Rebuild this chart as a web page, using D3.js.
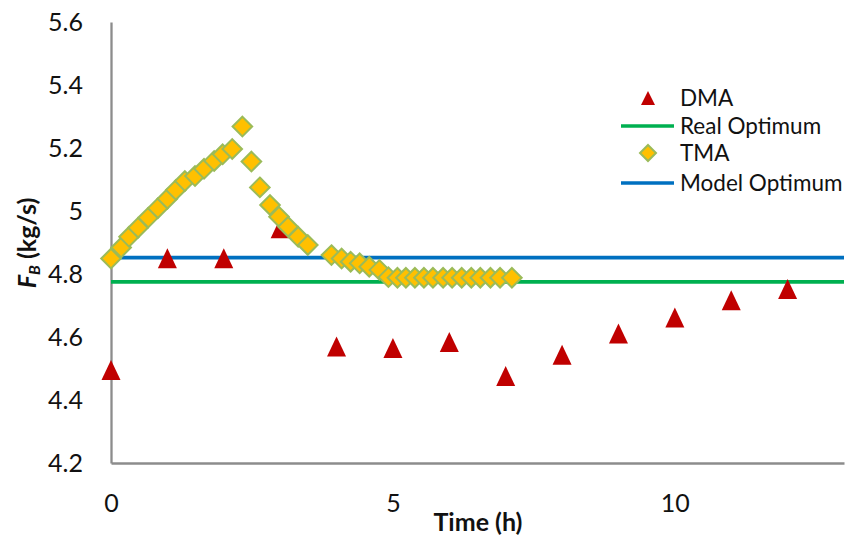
<!DOCTYPE html>
<html>
<head>
<meta charset="utf-8">
<script src="https://cdn.jsdelivr.net/npm/d3@7"></script>
<style>
  html, body { margin: 0; padding: 0; background: #fff; }
  svg { display: block; font-family: Lato, "Open Sans", sans-serif; }
</style>
</head>
<body>
<svg id="chart" width="860" height="542"></svg>
<script>
// DMA: one measurement per hour
const dmaTime  = [0, 1, 2, 3, 4, 5, 6, 7, 8, 9, 10, 11, 12];
const dmaValue = [4.495, 4.85, 4.85, 4.945, 4.57, 4.565, 4.584, 4.476, 4.544, 4.611, 4.662, 4.717, 4.752];

// TMA trajectory
const tmaTime  = [0, 0.18, 0.32, 0.48, 0.66, 0.83, 1.0, 1.15, 1.31, 1.49, 1.65, 1.83, 1.98, 2.15,
                  2.33, 2.49, 2.64, 2.82, 2.98, 3.14, 3.32, 3.49,
                  3.91, 4.09, 4.25, 4.41, 4.58, 4.76,
                  4.92, 5.08, 5.23, 5.39, 5.55, 5.71, 5.89, 6.05, 6.22, 6.39, 6.55, 6.73, 6.90, 7.11];
const tmaValue = [4.849, 4.884, 4.918, 4.947, 4.979, 5.009, 5.039, 5.067, 5.095, 5.111, 5.134, 5.159, 5.180, 5.197,
                  5.268, 5.157, 5.075, 5.019, 4.982, 4.95, 4.918, 4.892,
                  4.860, 4.849, 4.839, 4.834, 4.823, 4.813,
                  4.790, 4.788, 4.788, 4.788, 4.788, 4.788, 4.788, 4.788, 4.788, 4.788, 4.788, 4.788, 4.788, 4.788];

// Constant optima
const realOptimum  = 4.775;
const modelOptimum = 4.852;

// Axis ticks
const xTicks = [0, 5, 10];
const yTicks = [4.2, 4.4, 4.6, 4.8, 5.0, 5.2, 5.4, 5.6];
const xDomain = [0, 13];
const yDomain = [4.2, 5.6];

const legendItems = [
  { name: "DMA",           kind: "triangle" },
  { name: "Real Optimum",  kind: "line", color: "#00B050" },
  { name: "TMA",           kind: "diamond" },
  { name: "Model Optimum", kind: "line", color: "#0070C0" }
];

const COL_DMA = "#C00000", COL_TMA_FILL = "#FFC000", COL_TMA_STROKE = "#9BBB59";
const AXIS_COL = "#8C8C8C";

const svg = d3.select("#chart");
const x = d3.scaleLinear().domain(xDomain).range([111, 844]);
const y = d3.scaleLinear().domain(yDomain).range([463, 22]);

// triangle centred on its bounding box
function triPath(cx, cy, w, h) {
  const p = d3.path();
  p.moveTo(cx, cy - h / 2);
  p.lineTo(cx + w / 2, cy + h / 2);
  p.lineTo(cx - w / 2, cy + h / 2);
  p.closePath();
  return p.toString();
}
function diamondPath(cx, cy, r) {
  const p = d3.path();
  p.moveTo(cx, cy - r);
  p.lineTo(cx + r, cy);
  p.lineTo(cx, cy + r);
  p.lineTo(cx - r, cy);
  p.closePath();
  return p.toString();
}

// axes
const yAxis = d3.axisLeft(y).tickValues(yTicks).tickSize(0).tickSizeOuter(0).tickPadding(28)
  .tickFormat(d => String(+d.toFixed(1)));
const gy = svg.append("g").attr("transform", `translate(${x(0)},0)`).call(yAxis);
gy.select(".domain").attr("stroke", AXIS_COL).attr("stroke-width", 2.3);
gy.selectAll("text").attr("font-size", 25).attr("fill", "#111").attr("font-family", "Lato, 'Open Sans', sans-serif");

const xAxis = d3.axisBottom(x).tickValues(xTicks).tickSize(0).tickSizeOuter(0).tickPadding(31)
  .tickFormat(d3.format("d"));
const gx = svg.append("g").attr("transform", `translate(0,${y(4.2)})`).call(xAxis);
gx.select(".domain").attr("stroke", AXIS_COL).attr("stroke-width", 2.3);
gx.selectAll("text").attr("font-size", 25).attr("fill", "#111").attr("font-family", "Lato, 'Open Sans', sans-serif");

// axis titles
svg.append("text")
  .attr("x", 478).attr("y", 531)
  .attr("text-anchor", "middle")
  .attr("font-size", 25).attr("font-weight", "bold").attr("fill", "#111")
  .text("Time (h)");

const yt = svg.append("text")
  .attr("transform", "translate(36,243) rotate(-90)")
  .attr("text-anchor", "middle")
  .attr("font-size", 25).attr("font-weight", "bold").attr("fill", "#111");
yt.append("tspan").attr("font-style", "italic").text("F");
yt.append("tspan").attr("font-style", "italic").attr("font-size", 16).attr("baseline-shift", "-4").text("B");
yt.append("tspan").text(" (kg/s)");

// optimum lines
svg.append("line")
  .attr("x1", x(xDomain[0])).attr("x2", x(xDomain[1]))
  .attr("y1", y(realOptimum)).attr("y2", y(realOptimum))
  .attr("stroke", "#00B050").attr("stroke-width", 3.6);
svg.append("line")
  .attr("x1", x(xDomain[0])).attr("x2", x(xDomain[1]))
  .attr("y1", y(modelOptimum)).attr("y2", y(modelOptimum))
  .attr("stroke", "#0070C0").attr("stroke-width", 3.6);

// DMA markers
svg.append("g").selectAll("path")
  .data(dmaTime.map((t, i) => [t, dmaValue[i]]))
  .join("path")
  .attr("d", d => triPath(x(d[0]), y(d[1]), 19, 20))
  .attr("fill", COL_DMA);

// TMA markers
svg.append("g").selectAll("path")
  .data(tmaTime.map((t, i) => [t, tmaValue[i]]))
  .join("path")
  .attr("d", d => diamondPath(x(d[0]), y(d[1]), 9.8))
  .attr("fill", COL_TMA_FILL)
  .attr("stroke", COL_TMA_STROKE).attr("stroke-width", 2);

// legend
const legendY = [98, 126, 153, 183];
const lg = svg.append("g");
legendItems.forEach((item, i) => {
  const cy = legendY[i];
  if (item.kind === "triangle") {
    lg.append("path").attr("d", triPath(648, cy, 14, 14)).attr("fill", COL_DMA);
  } else if (item.kind === "diamond") {
    lg.append("path").attr("d", diamondPath(648, cy, 8))
      .attr("fill", COL_TMA_FILL).attr("stroke", COL_TMA_STROKE).attr("stroke-width", 2);
  } else {
    lg.append("line").attr("x1", 621).attr("x2", 674).attr("y1", cy).attr("y2", cy)
      .attr("stroke", item.color).attr("stroke-width", 3.6);
  }
  lg.append("text")
    .attr("x", 680).attr("y", cy).attr("dy", "0.36em")
    .attr("font-size", 22.5).attr("fill", "#111")
    .text(item.name);
});
</script>
</body>
</html>
